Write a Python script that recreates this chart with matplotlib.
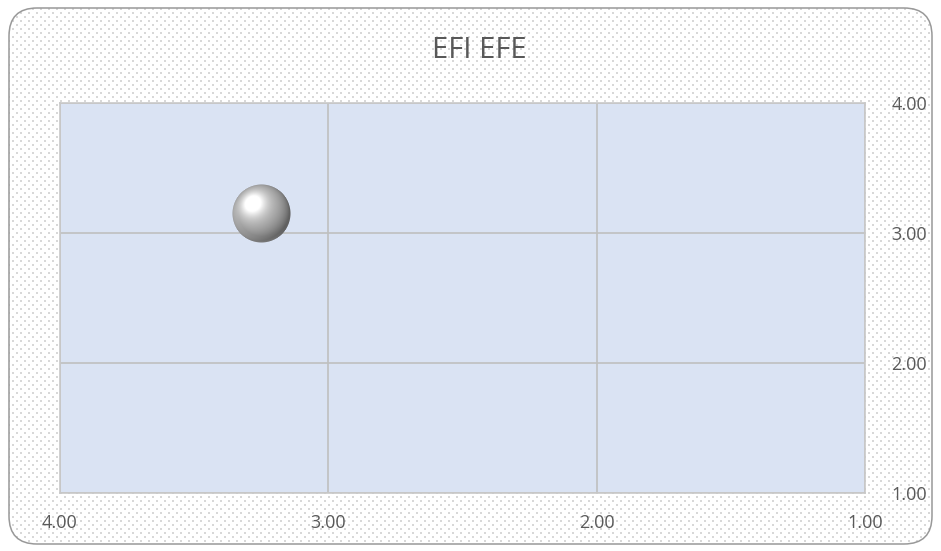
import numpy as np
import matplotlib
matplotlib.use("Agg")
import matplotlib.pyplot as plt
from matplotlib.patches import FancyBboxPatch
from matplotlib.offsetbox import OffsetImage, AnnotationBbox

# data
title = "EFI EFE"
efi = [3.25]
efe = [3.15]
x_ticks = [4.0, 3.0, 2.0, 1.0]
y_ticks = [1.0, 2.0, 3.0, 4.0]

W, H = 941, 551
DPI = 100
fig = plt.figure(figsize=(W / DPI, H / DPI), dpi=DPI)
fig.patch.set_facecolor("white")

# dotted background inside a rounded frame
bg = fig.add_axes([0, 0, 1, 1])
bg.set_xlim(0, W)
bg.set_ylim(H, 0)
bg.axis("off")
pat = np.ones((H, W, 3))
yy, xx = np.mgrid[0:H, 0:W]
dots = (((yy % 8) < 2) & ((xx % 8) < 2)) | ((((yy + 4) % 8) < 2) & (((xx + 4) % 8) < 2))
pat[dots] = [0.85, 0.85, 0.85]
frame = FancyBboxPatch((9, 8), W - 18, H - 15, boxstyle="round,pad=0,rounding_size=28",
                       facecolor="none", edgecolor="#999999", linewidth=1.1,
                       transform=bg.transData, zorder=3)
bg.add_patch(frame)
im = bg.imshow(pat, extent=(0, W, H, 0), interpolation="nearest", zorder=1)
im.set_clip_path(frame)

fig.text(479 / W, 1 - 50 / H, title, ha="center", va="center", fontsize=21,
         color="#595959", family="Open Sans")

ax = fig.add_axes([60 / W, 1 - 493 / H, 805 / W, 390 / H])
ax.set_facecolor("#dae3f3")
ax.set_xlim(4, 1)
ax.set_ylim(1, 4)
ax.set_xticks(x_ticks)
ax.set_yticks(y_ticks)
ax.set_xticklabels([f"{v:.2f}" for v in x_ticks])
ax.set_yticklabels([f"{v:.2f}" for v in y_ticks])
ax.yaxis.tick_right()
ax.tick_params(length=0, labelsize=13, colors="#595959")
ax.tick_params(axis="x", pad=15)
ax.tick_params(axis="y", pad=19)
for lab in ax.get_xticklabels() + ax.get_yticklabels():
    lab.set_family("Open Sans")
ax.grid(True, color="#bfbfbf", linewidth=1.2)
ax.set_axisbelow(True)
for s in ax.spines.values():
    s.set_color("#c8c8c8")
    s.set_linewidth(1.2)

# shaded silver sphere image
n = 120
g = np.linspace(-1, 1, n)
gx, gy = np.meshgrid(g, g)
r2 = gx ** 2 + gy ** 2
gz = np.sqrt(np.clip(1 - r2, 0, 1))
lx, ly, lz = -0.3, -0.35, 0.88
ln = np.sqrt(lx ** 2 + ly ** 2 + lz ** 2)
dot = np.clip((gx * lx + gy * ly + gz * lz) / ln, 0, 1)
shade = 0.38 + 0.42 * dot + 0.35 * dot ** 12
# faint rim reflection at lower left
rim = np.clip(-(gx * 0.5) + gy * 0.8, 0, 1) * np.clip(r2 - 0.6, 0, 1) * 0.35
shade = np.clip(shade + rim, 0, 1)
sphere = np.zeros((n, n, 4))
sphere[..., 0] = shade
sphere[..., 1] = shade
sphere[..., 2] = shade
sphere[..., 3] = np.clip((1 - np.sqrt(r2)) * n / 2, 0, 1)

for x, y in zip(efi, efe):
    ab = AnnotationBbox(OffsetImage(sphere, zoom=59 / n * 72 / DPI), (x, y), frameon=False,
                        xycoords="data", zorder=5)
    ax.add_artist(ab)

fig.savefig("out.png", dpi=DPI)
